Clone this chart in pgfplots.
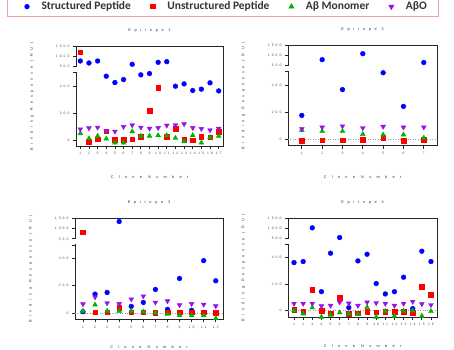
\documentclass[border=0pt]{standalone}
\usepackage{pgfplots}
\pgfplotsset{compat=1.18}
\usepackage{fontspec}
\setmainfont{Liberation Sans}
\newfontfamily\legfont{Carlito}
\newfontfamily\lsA[LetterSpace=100]{Liberation Sans}
\newfontfamily\lsB[LetterSpace=140]{Liberation Sans}
\newfontfamily\lsT[LetterSpace=60]{Liberation Sans}
\definecolor{cblue}{RGB}{0,0,255}
\definecolor{cred}{RGB}{255,0,0}
\definecolor{cgreen}{RGB}{0,180,0}
\definecolor{cpurple}{RGB}{150,20,230}
\definecolor{legborder}{RGB}{241,160,160}
\tikzset{zl/.style={black!40, dotted, line width=0.5pt},
  limg/.style={draw=none,fill=none,inner sep=0pt,minimum width=20bp,minimum height=4bp,anchor=center}}
\pgfplotsset{
  panel/.style={
    scale only axis,
    anchor=south west,
    y coord trafo/.code={\pgfmathparse{(##1>500)*(545+(##1-500)*0.148)+(##1<=500)*(##1)}},
    ymax=1500,
    ytick={0,200,400,499.999,500.001,1000,1500},
    yticklabels={0,200,400,{},500,1000,1500},
    tick align=outside,
    xtick pos=bottom, ytick pos=left,
    major tick length=3bp,
    axis line style={line width=0.8pt, black!85},
    every tick/.style={line width=0.8pt, black!85},
    ticklabel style={font=\lsT\fontsize{3.4}{3.6}\selectfont, text=black!70},
    /pgf/number format/assume math mode=true,
    title style={font=\lsA\fontsize{3.8}{4}\selectfont, text=black!80, at={(axis description cs:0.5,1)}, anchor=center, yshift=10bp},
    xlabel style={font=\lsB\fontsize{3.8}{4}\selectfont, text=black!80, at={(axis description cs:0.5,0)}, anchor=center, yshift=-31bp},
    ylabel style={font=\lsA\fontsize{3.8}{4}\selectfont, text=black!80, at={(axis description cs:-0.30,0.5)}, anchor=center},
    xlabel={Clone Number},
    ylabel={Binding Response (RU)},
    after end axis/.code={
      \coordinate (b1) at ({rel axis cs:0,0} |- {axis cs:1,500});
      \coordinate (b2) at ({rel axis cs:0,0} |- {axis cs:1,500.001});
      \fill[white] ([xshift=-1.5bp,yshift=0.5bp]b1) rectangle ([xshift=1.5bp,yshift=-0.5bp]b2);
    },
  },
  sb/.style={only marks, mark=*, mark size=2.4bp, color=cblue,
    legend image code/.code={\node[limg] at (2bp,0bp) {}; \fill[cblue] (0bp,0bp) circle (2.3bp);}},
  sr/.style={only marks, mark=square*, mark size=2.3bp, color=cred,
    legend image code/.code={\node[limg] at (2bp,0bp) {}; \fill[cred] (-2.1bp,-2.1bp) rectangle (2.1bp,2.1bp);}},
  sg/.style={only marks, mark=triangle*, mark size=2.8bp, color=cgreen,
    legend image code/.code={\node[limg] at (2bp,0bp) {}; \fill[cgreen] (90:2.9bp) -- (210:2.9bp) -- (330:2.9bp) -- cycle;}},
  sp/.style={only marks, mark=triangle*, mark size=2.8bp, mark options={rotate=180}, color=cpurple,
    legend image code/.code={\node[limg] at (2bp,0bp) {}; \fill[cpurple] (270:2.9bp) -- (30:2.9bp) -- (150:2.9bp) -- cycle;}},
}
\begin{document}
\begin{tikzpicture}
\useasboundingbox (0,0) rectangle (454bp,-350bp);
% Panel 1
\begin{axis}[panel, at={(76bp,-146bp)}, width=147bp, height=99.3bp,
  xmin=0.5, xmax=17.5, ymin=-44,
  xtick={1,...,17}, xticklabels={1,2,3,4,5,6,7,8,9,10,11,12,13,14,15,16,17},
  title={Epitope 1},
  legend columns=4,
  legend style={at={(axis description cs:-0.4714,1.302)}, anchor=south west,
    draw=legborder, line width=0.6pt, fill=white,
    font=\legfont\bfseries\fontsize{11.5}{12}\selectfont, text=black!80,
    inner xsep=12bp, inner ysep=5bp,
    nodes={inner sep=0pt, anchor=west},
    /tikz/every odd column/.append style={column sep=2.5bp},
    /tikz/every even column/.append style={column sep=14bp}},
]
\addplot[sb] coordinates {(1,783)(2,683)(3,783)(4,474)(5,427)(6,449)(7,617)(8,484)(9,494)(10,717)(11,750)(12,400)(13,417)(14,368)(15,378)(16,425)(17,365)};
\addlegendentry{Structured Peptide}
\addplot[sr] coordinates {(1,1217)(2,-10)(3,7)(4,67)(5,2)(6,2)(7,7)(8,25)(9,217)(10,390)(11,25)(12,86)(13,5)(14,0)(15,27)(16,20)(17,64)};
\addlegendentry{Unstructured Peptide}
\addplot[sg] coordinates {(1,49)(2,12)(3,30)(4,10)(5,-20)(6,-20)(7,64)(8,30)(9,30)(10,35)(11,35)(12,15)(13,-10)(14,35)(15,-20)(16,20)(17,30)};
\addlegendentry{Aβ Monomer}
\addplot[sp] coordinates {(1,81)(2,89)(3,94)(4,67)(5,64)(6,99)(7,111)(8,94)(9,86)(10,91)(11,109)(12,111)(13,119)(14,91)(15,84)(16,74)(17,86)};
\addlegendentry{AβO}
\end{axis}
% Panel 2
\begin{axis}[panel, at={(288bp,-145.7bp)}, width=149bp, height=100bp,
  xmin=0.32, xmax=7.65, ymin=-50,
  xtick={1,...,7}, xticklabels={1,2,3,4,5,6,7},
  title={Epitope 2}]
\draw[zl] ({rel axis cs:0,0} |- {axis cs:1,0}) -- ({rel axis cs:1,0} |- {axis cs:1,0});
\addplot[sb] coordinates {(1,175)(2,800)(3,367)(4,1100)(5,492)(6,242)(7,656)};
\addplot[sr] coordinates {(1,-15)(2,-8)(3,-10)(4,-5)(5,10)(6,-12)(7,-5)};
\addplot[sg] coordinates {(1,65)(2,57)(3,57)(4,35)(5,32)(6,32)(7,8)};
\addplot[sp] coordinates {(1,75)(2,87)(3,95)(4,82)(5,92)(6,87)(7,87)};
\end{axis}
% Panel 3
\begin{axis}[panel, at={(75bp,-319.3bp)}, width=148bp, height=100.6bp,
  xmin=0.34, xmax=12.6, ymin=-46,
  xtick={1,...,12}, xticklabels={1,2,3,4,5,6,7,8,9,10,11,12},
  xlabel style={yshift=3.5bp},
  title={Epitope 3}]
\draw[zl] ({rel axis cs:0,0} |- {axis cs:1,0}) -- ({rel axis cs:1,0} |- {axis cs:1,0});
\addplot[sb] coordinates {(1,10)(2,139)(3,151)(4,1360)(5,49)(6,78)(7,173)(8,27)(9,254)(10,20)(11,385)(12,237)};
\addplot[sr] coordinates {(1,833)(2,7)(3,7)(4,41)(5,7)(6,5)(7,2)(8,7)(9,7)(10,7)(11,5)(12,2)};
\addplot[sg] coordinates {(1,15)(2,61)(3,15)(4,15)(5,15)(6,10)(7,2)(8,-7)(9,-17)(10,-17)(11,-17)(12,-39)};
\addplot[sp] coordinates {(1,66)(2,117)(3,73)(4,68)(5,102)(6,124)(7,78)(8,88)(9,59)(10,68)(11,63)(12,51)};
\end{axis}
% Panel 4
\begin{axis}[panel, at={(288bp,-317bp)}, width=149bp, height=98.3bp,
  xmin=0.34, xmax=16.66, ymin=-48,
  xtick={1,...,16}, xticklabels={1,2,3,4,5,6,7,8,9,10,11,12,13,14,15,16},
  xlabel style={yshift=1.5bp},
  title={Epitope 4}]
\draw[zl] ({rel axis cs:0,0} |- {axis cs:1,0}) -- ({rel axis cs:1,0} |- {axis cs:1,0});
\addplot[sb] coordinates {(1,362)(2,370)(3,1035)(4,143)(5,433)(6,540)(7,23)(8,375)(9,425)(10,204)(11,126)(12,143)(13,252)(14,15)(15,448)(16,370)};
\addplot[sr] coordinates {(1,8)(2,-10)(3,158)(4,0)(5,-18)(6,98)(7,-23)(8,-18)(9,-10)(10,-13)(11,-8)(12,-10)(13,-10)(14,-15)(15,179)(16,118)};
\addplot[sg] coordinates {(1,0)(2,-23)(3,23)(4,-48)(5,-33)(6,-15)(7,-23)(8,-28)(9,25)(10,-48)(11,-5)(12,-40)(13,-3)(14,0)(15,-40)(16,-5)};
\addplot[sp] coordinates {(1,53)(2,53)(3,53)(4,35)(5,38)(6,63)(7,55)(8,38)(9,63)(10,58)(11,53)(12,38)(13,53)(14,68)(15,50)(16,43)};
\end{axis}
\end{tikzpicture}
\end{document}
